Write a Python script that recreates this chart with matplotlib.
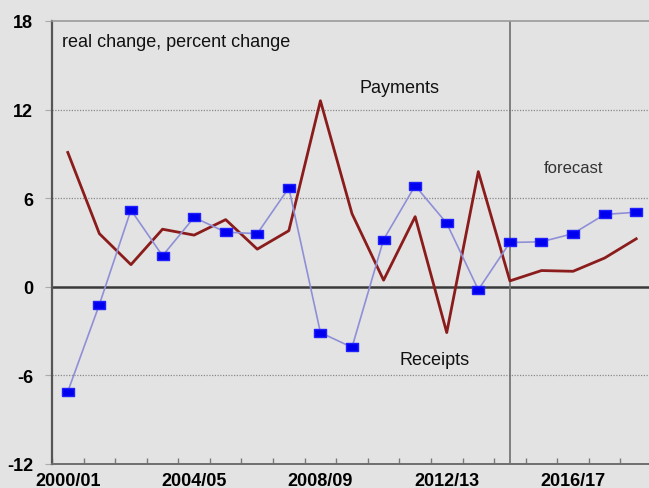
import matplotlib
matplotlib.use("Agg")
import matplotlib.pyplot as plt
import numpy as np

categories = ["2000/01", "2001/02", "2002/03", "2003/04", "2004/05", "2005/06",
              "2006/07", "2007/08", "2008/09", "2009/10", "2010/11", "2011/12",
              "2012/13", "2013/14", "2014/15", "2015/16", "2016/17", "2017/18",
              "2018/19"]
receipts = [-7.1, -1.2, 5.2, 2.1, 4.7, 3.7, 3.6, 6.7, -3.1, -4.1, 3.2, 6.85,
            4.3, -0.2, 3.0, 3.05, 3.6, 4.9, 5.05]
payments = [9.1, 3.6, 1.5, 3.9, 3.5, 4.55, 2.55, 3.8, 12.6, 4.95, 0.45, 4.75,
            -3.1, 7.8, 0.4, 1.1, 1.05, 1.95, 3.25]
tick_labels = ["2000/01", "2004/05", "2008/09", "2012/13", "2016/17"]
y_ticks = [-12, -6, 0, 6, 12, 18]

plt.rcParams['font.family'] = ['Liberation Sans', 'DejaVu Sans']
bg = "#e3e3e3"
fig = plt.figure(figsize=(6.49, 4.89), dpi=100, facecolor=bg)
ax = fig.add_axes([52/649, 24/489, 600/649, 443/489], facecolor=bg)

x = np.arange(len(categories))

# grid lines
for v in [-6, 6, 12]:
    ax.axhline(v, color="#8a8a8a", lw=0.9, ls=(0, (1, 1.2)), zorder=1)
ax.axhline(0, color="#3a3a3a", lw=1.8, zorder=2)
ax.axvline(14, color="#6e6e6e", lw=1.2, zorder=2)

ax.plot(x, payments, color="#8b1c1c", lw=2.0, zorder=3)
rect = [(-1.35, -1), (1.35, -1), (1.35, 1), (-1.35, 1), (-1.35, -1)]
ax.plot(x, receipts, color="#8f8fd8", lw=1.2, marker=rect, markersize=8,
        markerfacecolor="#0000ee", markeredgecolor="#2020ff", zorder=4)

ax.set_xlim(-0.5, len(categories) - 0.5)
ax.set_ylim(-12, 18)

major = [categories.index(t) for t in tick_labels]
ax.set_xticks(major)
ax.set_xticklabels(tick_labels, fontsize=13, fontweight="bold")
ax.set_xticks(np.arange(-0.5, len(categories)), minor=True)
ax.tick_params(axis="x", which="major", length=0, pad=5.5)
ax.tick_params(axis="x", which="minor", direction="in", length=4, color="#7a7a7a", width=1)

ax.set_yticks(y_ticks)
ax.set_yticklabels([str(v) for v in y_ticks], fontsize=13, fontweight="bold")
ax.tick_params(axis="y", which="major", direction="out", length=5, color="#aaaaaa",
               width=0.8, pad=8.5)

ax.spines["left"].set_color("#555555")
ax.spines["left"].set_linewidth(1.6)
ax.spines["bottom"].set_color("#6e6e6e")
ax.spines["bottom"].set_linewidth(1.4)
ax.spines["top"].set_color("#9a9a9a")
ax.spines["top"].set_linewidth(1.2)
ax.spines["right"].set_visible(False)

ax.text(0.0 - 0.5 + 10/31.6, 16.6, "real change, percent change", fontsize=13,
        ha="left", va="center", color="#111111")
ax.text(10.5, 13.5, "Payments", fontsize=13, ha="center", va="center", color="#111111")
ax.text(11.6, -4.9, "Receipts", fontsize=13, ha="center", va="center", color="#111111")
ax.text(16.0, 8.1, "forecast", fontsize=12, ha="center", va="center", color="#333333")

fig.savefig("out.png", dpi=100, facecolor=bg)
